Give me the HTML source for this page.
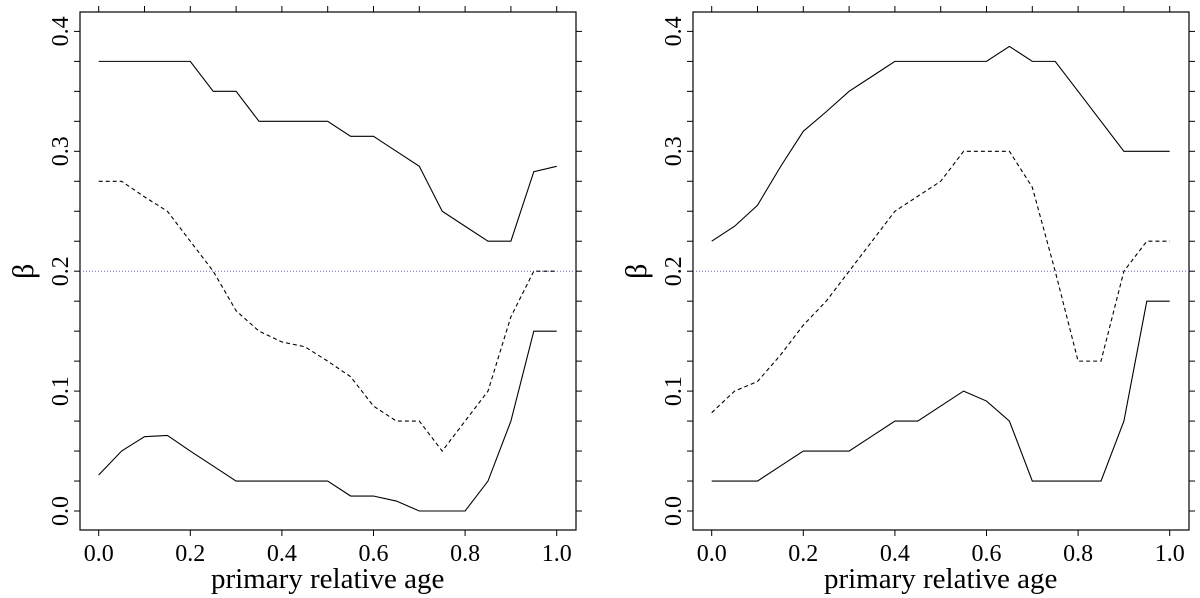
<!DOCTYPE html>
<html><head><meta charset="utf-8"><style>
html,body{margin:0;padding:0;background:#fff;width:1200px;height:598px;overflow:hidden}
svg text{font-family:"Liberation Serif",serif;fill:#000}
</style></head><body>
<svg id="chart" width="1200" height="598" xmlns="http://www.w3.org/2000/svg"></svg>
<script>
const ages=[0,0.05,0.1,0.15,0.2,0.25,0.3,0.35,0.4,0.45,0.5,0.55,0.6,0.65,0.7,0.75,0.8,0.85,0.9,0.95,1.0];
const leftUpper=[0.375,0.375,0.375,0.375,0.375,0.35,0.35,0.325,0.325,0.325,0.325,0.3125,0.3125,0.3,0.2875,0.25,0.2375,0.225,0.225,0.283,0.2875];
const leftMid=[0.275,0.275,0.262,0.25,0.225,0.2,0.167,0.15,0.141,0.137,0.125,0.112,0.0875,0.075,0.075,0.05,0.075,0.1,0.162,0.2,0.2];
const leftLower=[0.03,0.05,0.062,0.063,0.05,0.0375,0.025,0.025,0.025,0.025,0.025,0.0125,0.0125,0.0083,0,0,0,0.025,0.075,0.15,0.15];
const rightUpper=[0.225,0.2375,0.255,0.287,0.3167,0.333,0.35,0.3625,0.375,0.375,0.375,0.375,0.375,0.3875,0.375,0.375,0.35,0.325,0.3,0.3,0.3];
const rightMid=[0.082,0.1,0.108,0.13,0.155,0.175,0.2,0.225,0.25,0.2625,0.275,0.3,0.3,0.3,0.27,0.2,0.125,0.125,0.2,0.225,0.225];
const rightLower=[0.025,0.025,0.025,0.0375,0.05,0.05,0.05,0.0625,0.075,0.075,0.0875,0.1,0.0917,0.075,0.025,0.025,0.025,0.025,0.075,0.175,0.175];
const xTicks=[0,0.2,0.4,0.6,0.8,1.0];
const xTickLabels=["0.0","0.2","0.4","0.6","0.8","1.0"];
const yTicks=[0,0.1,0.2,0.3,0.4];
const yTickLabels=["0.0","0.1","0.2","0.3","0.4"];
const refLine=0.2;

const NS="http://www.w3.org/2000/svg";
const svg=document.getElementById('chart');
function mk(tag,attrs,parent){const e=document.createElementNS(NS,tag);for(const k in attrs)e.setAttribute(k,attrs[k]);(parent||svg).appendChild(e);return e;}

function panel(name,x0,series){
  const g=mk('g',{});
  
  
  const sx=v=>x0+18.7+v*458, sy=v=>511-v*1199;
  const L=x0,R=x0+496,T=12,B=530;
  const box=mk('rect',{x:L,y:T,width:R-L,height:B-T,fill:'none',stroke:'#000','stroke-width':1.2},g);
  
  
  for(let i=0;i<=16;i++){const v=i*0.025,y=sy(v);if(y<T||y>B)continue;
    mk('line',{x1:L,x2:L-6,y1:y,y2:y,stroke:'#000'},g);
    mk('line',{x1:R,x2:R+6,y1:y,y2:y,stroke:'#000'},g);}
  for(let i=0;i<=10;i++){const x=sx(i*0.1);mk('line',{x1:x,x2:x,y1:T,y2:T-6,stroke:'#000'},g);}
  xTicks.forEach((v,i)=>{const x=sx(v);mk('line',{x1:x,x2:x,y1:B,y2:B+6,stroke:'#000'},g);
    const t=mk('text',{x:x,y:B+31,'text-anchor':'middle','font-size':24},g);t.textContent=xTickLabels[i];
    
    });
  yTicks.forEach((v,i)=>{const y=sy(v);
    const t=mk('text',{x:0,y:0,'text-anchor':'middle','font-size':24,transform:`translate(${L-12},${y}) rotate(-90)`},g);t.textContent=yTickLabels[i];
    
    });
  const xt=mk('text',{x:sx(0.5),y:588,'text-anchor':'middle','font-size':29},g);xt.textContent='primary relative age';
  
  
  const yt=mk('text',{x:0,y:0,'text-anchor':'middle','font-size':30,transform:`translate(${L-47},${sy(0.2)}) rotate(-90)`},g);yt.textContent='β';
  
  
  const rl=mk('line',{x1:L,x2:R,y1:sy(refLine),y2:sy(refLine),stroke:'#6666cc','stroke-width':1,'stroke-dasharray':'1,2'},g);
  
  
  series.forEach(s=>{
    const p=mk('polyline',{points:ages.map((a,i)=>sx(a)+','+sy(s.v[i])).join(' '),fill:'none',stroke:'#000','stroke-width':1.1},g);
    if(s.dash)p.setAttribute('stroke-dasharray','4,3');
    
    
  });
}
panel('left-panel',80,[{n:'upper-bound-line',v:leftUpper},{n:'median-line',v:leftMid,dash:1},{n:'lower-bound-line',v:leftLower}]);
panel('right-panel',693,[{n:'upper-bound-line',v:rightUpper},{n:'median-line',v:rightMid,dash:1},{n:'lower-bound-line',v:rightLower}]);
</script>
</body></html>
